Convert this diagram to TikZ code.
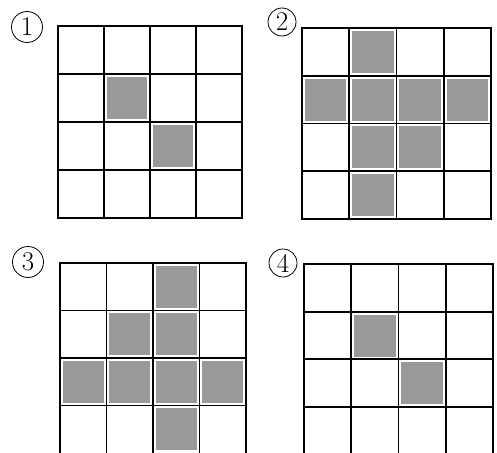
\documentclass[tikz,border=0pt]{standalone}
\begin{document}
\begin{tikzpicture}[
  gridline/.style={line width=1.9pt, black, line cap=rect},
  shadecell/.style={fill=black!40},
  lab/.style={circle, draw, line width=0.8pt, inner sep=0pt, minimum size=31pt,
              font=\fontsize{27}{27}\selectfont}
]
\useasboundingbox (0pt,0pt) rectangle (497pt,-452pt);
\clip (0pt,0pt) rectangle (497pt,-452pt);

% labels
\node[lab] (l1) at (27pt,-27pt) {1};
\node[lab, minimum size=28pt] (l2) at (282pt,-22pt) {2};
\node[lab] (l3) at (28pt,-262pt) {3};
\node[lab, minimum size=28pt] (l4) at (283pt,-263pt) {4};

% grid 1
\begin{scope}[shift={(58pt,-26pt)}, x=46pt, y=-48pt]
  \foreach \r/\c in {2/2,3/3}
    \fill[shadecell] (\c-1+0.06,\r-1+0.06) rectangle (\c-0.06,\r-0.06);
  \foreach \i in {1,2,3} {
    \draw[gridline] (\i,0) -- (\i,4);
    \draw[gridline] (0,\i) -- (4,\i);
  }
  \draw[gridline] (0,0) rectangle (4,4);
\end{scope}

% grid 2
\begin{scope}[shift={(302pt,-28pt)}, x=47.25pt, y=-47.75pt]
  \foreach \r/\c in {1/2,2/1,2/2,2/3,2/4,3/2,3/3,4/2}
    \fill[shadecell] (\c-1+0.06,\r-1+0.06) rectangle (\c-0.06,\r-0.06);
  \foreach \i in {1,2,3} {
    \draw[gridline] (\i,0) -- (\i,4);
    \draw[gridline] (0,\i) -- (4,\i);
  }
  \draw[gridline] (0,0) rectangle (4,4);
\end{scope}

% grid 3
\begin{scope}[shift={(60pt,-263pt)}, x=46.5pt, y=-47.5pt]
  \foreach \r/\c in {1/3,2/2,2/3,3/1,3/2,3/3,3/4,4/3}
    \fill[shadecell] (\c-1+0.06,\r-1+0.06) rectangle (\c-0.06,\r-0.06);
  \foreach \i in {0,1,2,3,4}
    \draw[gridline] (\i,0) -- (\i,4.3);
  \foreach \i in {0,1,2,3}
    \draw[gridline] (0,\i) -- (4,\i);
\end{scope}

% grid 4
\begin{scope}[shift={(304pt,-264pt)}, x=47.25pt, y=-47.7pt]
  \foreach \r/\c in {2/2,3/3}
    \fill[shadecell] (\c-1+0.06,\r-1+0.06) rectangle (\c-0.06,\r-0.06);
  \foreach \i in {0,1,2,3,4}
    \draw[gridline] (\i,0) -- (\i,4.3);
  \foreach \i in {0,1,2,3}
    \draw[gridline] (0,\i) -- (4,\i);
\end{scope}
\end{tikzpicture}
\end{document}
